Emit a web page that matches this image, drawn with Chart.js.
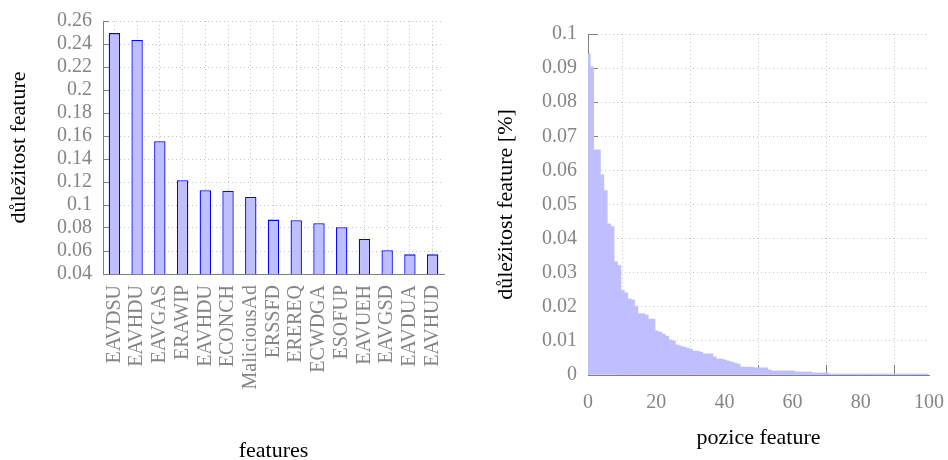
<!DOCTYPE html>
<html>
<head>
<meta charset="utf-8">
<script src="https://cdn.jsdelivr.net/npm/chart.js@4.4.0/dist/chart.umd.min.js"></script>
<style>
  html, body { margin: 0; padding: 0; background: #fff; overflow: hidden; }
  #wrap { position: relative; width: 948px; height: 460px; }
  #wrap canvas { position: absolute; top: 0; }
</style>
</head>
<body>
<div id="wrap">
  <canvas id="topFeatures" width="474" height="460" style="left:0"></canvas>
  <canvas id="allFeatures" width="474" height="460" style="left:474px"></canvas>
</div>
<script>
// Fifteen most important features
const featureNames = [
  'EAVDSU', 'EAVHDU', 'EAVGAS', 'ERAWIP', 'EAVHDU', 'ECONCH', 'MaliciousAd',
  'ERSSFD', 'EREREQ', 'ECWDGA', 'ESOFUP', 'EAVUEH', 'EAVGSD', 'EAVDUA', 'EAVHUD'
];
const featureImportance = [
  0.2495, 0.2435, 0.1555, 0.1216, 0.1128, 0.1125, 0.1070,
  0.0873, 0.0867, 0.0841, 0.0806, 0.0705, 0.0606, 0.0571, 0.0571
];
const importanceTicks = [0.04, 0.06, 0.08, 0.1, 0.12, 0.14, 0.16, 0.18, 0.2, 0.22, 0.24, 0.26];

// Importance of every feature, ordered by rank
const rankImportance = [
  0.0941, 0.0904, 0.0660, 0.0660, 0.0587, 0.0541, 0.0443, 0.0435, 0.0332, 0.0321,
  0.0249, 0.0241, 0.0223, 0.0220, 0.0202, 0.0180, 0.0180, 0.0176, 0.0164, 0.0164,
  0.0129, 0.0126, 0.0120, 0.0114, 0.0103, 0.0100, 0.0088, 0.0085, 0.0082, 0.0079,
  0.0076, 0.0070, 0.0070, 0.0067, 0.0062, 0.0062, 0.0062, 0.0053, 0.0047, 0.0047,
  0.0044, 0.0041, 0.0038, 0.0035, 0.0032, 0.0023, 0.0023, 0.0023, 0.0023, 0.0021,
  0.0021, 0.0021, 0.0021, 0.0015, 0.0012, 0.0012, 0.0012, 0.0012, 0.0012, 0.0012,
  0.0012, 0.0009, 0.0009, 0.0009, 0.0009, 0.0009, 0.0006, 0.0006, 0.0006, 0.0006,
  0.0006, 0.0003, 0.0003, 0.0003, 0.0003, 0.0003, 0.0003, 0.0003, 0.0003, 0.0003,
  0.0003, 0.0003, 0.0003, 0.0003, 0.0003, 0.0003, 0.0003, 0.0003, 0.0003, 0.0003,
  0.0003, 0.0003, 0.0003, 0.0003, 0.0003, 0.0003, 0.0003, 0.0003, 0.0003, 0.0003
];
const rankTicks = [0, 20, 40, 60, 80, 100];
const shareTicks = [0, 0.01, 0.02, 0.03, 0.04, 0.05, 0.06, 0.07, 0.08, 0.09, 0.1];

// bars sit slightly right of the integer rank
const barShift = 0.15;

const AXIS = '#808080';
const GRID = '#c4c4c4';
const TICK_TEXT = '#858585';
const FILL = '#bfbfff';

Chart.defaults.font.family = "'Liberation Serif', 'Times New Roman', serif";
Chart.defaults.font.size = 20;

const fixedTicks = list => scale => { scale.ticks = list.map(v => ({ value: v })); };
const noPad = s => { s.paddingLeft = 0; s.paddingRight = 0; s.paddingTop = 0; s.paddingBottom = 0; };

new Chart(document.getElementById('topFeatures'), {
  type: 'bar',
  data: {
    labels: featureNames,
    datasets: [{
      data: featureImportance,
      backgroundColor: FILL,
      borderColor: '#0000ff',
      borderWidth: 1.3,
      barPercentage: 0.5,
      categoryPercentage: 1,
      clip: 0
    }]
  },
  options: {
    responsive: false,
    animation: false,
    devicePixelRatio: 1,
    layout: { padding: { left: 0, top: 21, right: 30, bottom: 0 } },
    plugins: { legend: { display: false }, tooltip: { enabled: false } },
    scales: {
      x: {
        type: 'category',
        offset: true,
        grid: { offset: false, color: GRID, lineWidth: 1, drawTicks: false },
        border: { color: AXIS, width: 1, dash: [1, 3] },
        ticks: { color: TICK_TEXT, font: { size: 20 }, minRotation: 90, maxRotation: 90, autoSkip: false, padding: 11 },
        title: { display: true, text: 'features', color: '#000', font: { size: 22, lineHeight: 1 }, padding: { top: 0, bottom: -2.5 } },
        afterFit: s => { s.height = 186; noPad(s); }
      },
      y: {
        min: 0.04,
        max: 0.26,
        afterBuildTicks: fixedTicks(importanceTicks),
        grid: { color: GRID, lineWidth: 1, tickLength: -6, tickColor: AXIS, tickWidth: 1 },
        border: { color: AXIS, width: 1, dash: [1, 3] },
        ticks: { color: TICK_TEXT, font: { size: 20 }, padding: 17, autoSkip: false, callback: v => String(v) },
        title: { display: true, text: 'důležitost feature', color: '#000', font: { size: 22, lineHeight: 1 }, padding: { top: 8, bottom: 0 } },
        afterFit: s => { s.width = 103; noPad(s); }
      }
    }
  }
});

new Chart(document.getElementById('allFeatures'), {
  type: 'bar',
  data: {
    datasets: [{
      data: rankImportance.map((v, i) => ({ x: i + barShift, y: v })),
      backgroundColor: FILL,
      borderWidth: 0,
      barPercentage: 1,
      categoryPercentage: 1,
      clip: 0
    }]
  },
  options: {
    responsive: false,
    animation: false,
    devicePixelRatio: 1,
    layout: { padding: { left: 0, top: 34, right: 19, bottom: 0 } },
    plugins: { legend: { display: false }, tooltip: { enabled: false } },
    scales: {
      x: {
        type: 'linear',
        min: 0,
        max: 100,
        offset: false,
        afterBuildTicks: fixedTicks(rankTicks),
        grid: { color: GRID, lineWidth: 1, tickLength: -10, tickColor: AXIS, tickWidth: 1 },
        border: { color: AXIS, width: 1, dash: [1, 3] },
        ticks: { color: TICK_TEXT, font: { size: 20, lineHeight: 1 }, padding: 27.5, maxRotation: 0, autoSkip: false, callback: v => String(v) },
        title: { display: true, text: 'pozice feature', color: '#000', font: { size: 22, lineHeight: 1 }, padding: { top: 0, bottom: 11 } },
        afterFit: s => { s.height = 85; noPad(s); }
      },
      y: {
        min: 0,
        max: 0.1,
        afterBuildTicks: fixedTicks(shareTicks),
        grid: { color: GRID, lineWidth: 1, tickLength: -10, tickColor: AXIS, tickWidth: 1 },
        border: { color: AXIS, width: 1, dash: [1, 3] },
        ticks: { color: TICK_TEXT, font: { size: 20 }, padding: 21, autoSkip: false, callback: v => String(v) },
        title: { display: true, text: 'důležitost feature [%]', color: '#000', font: { size: 22, lineHeight: 1 }, padding: { top: 21, bottom: 0 } },
        afterFit: s => { s.width = 114; noPad(s); }
      }
    }
  }
});
</script>
</body>
</html>
